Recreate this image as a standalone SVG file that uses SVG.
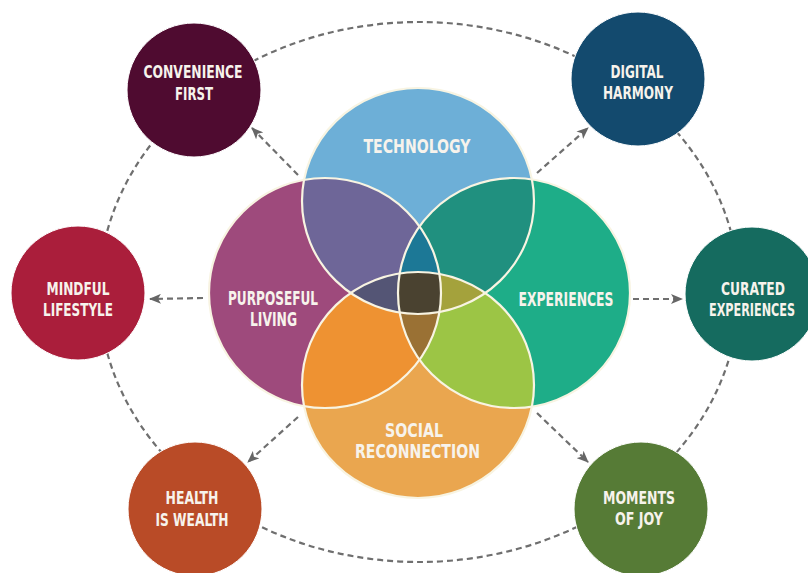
<svg xmlns="http://www.w3.org/2000/svg" width="808" height="573" viewBox="0 0 808 573">
<style>
.lbl{font-family:"Liberation Sans Narrow","DejaVu Sans Condensed","Liberation Sans",sans-serif;font-weight:bold;fill:#F7F3EC;text-anchor:middle}
.big{font-size:19.5px}
.sm{font-size:17px}
.dash{fill:none;stroke:#6F6F6F;stroke-width:2.2;stroke-dasharray:6 4}
.edge{fill:none;stroke:#F8F4E2;stroke-width:2.2}
.outer{stroke:#FFFFFF;stroke-width:1}
</style>
<defs>
<marker id="ah" viewBox="0 0 12 10" refX="11" refY="5" markerWidth="12" markerHeight="10" markerUnits="userSpaceOnUse" orient="auto">
<path d="M0,0 L12,5 L0,10 L3,5 Z" fill="#666666"/>
</marker>
<clipPath id="cT"><ellipse cx="418" cy="201" rx="116" ry="113"/></clipPath>
<clipPath id="cP"><ellipse cx="325" cy="293" rx="116" ry="115"/></clipPath>
<clipPath id="cE"><ellipse cx="514" cy="293" rx="116" ry="115"/></clipPath>
<clipPath id="cS"><ellipse cx="418" cy="385" rx="116" ry="113"/></clipPath>
</defs>
<rect width="808" height="573" fill="#FFFFFF"/>

<g id="connectors">
<ellipse class="dash" cx="419" cy="292" rx="320" ry="270"/>
<line class="dash" x1="298" y1="175" x2="252" y2="128" marker-end="url(#ah)"/>
<line class="dash" x1="537" y1="173" x2="588" y2="128" marker-end="url(#ah)"/>
<line class="dash" x1="203" y1="298" x2="150" y2="299" marker-end="url(#ah)"/>
<line class="dash" x1="633" y1="299" x2="682" y2="299" marker-end="url(#ah)"/>
<line class="dash" x1="298" y1="417" x2="248" y2="462" marker-end="url(#ah)"/>
<line class="dash" x1="537" y1="413" x2="588" y2="462" marker-end="url(#ah)"/>
</g>

<g id="venn">
<ellipse cx="418" cy="201" rx="116" ry="113" fill="#6DAFD7"/>
<ellipse cx="325" cy="293" rx="116" ry="115" fill="#9E4A7C"/>
<ellipse cx="514" cy="293" rx="116" ry="115" fill="#1EAD88"/>
<ellipse cx="418" cy="385" rx="116" ry="113" fill="#EAA64F"/>
<g clip-path="url(#cT)"><ellipse cx="325" cy="293" rx="116" ry="115" fill="#6E6698"/></g>
<g clip-path="url(#cT)"><ellipse cx="514" cy="293" rx="116" ry="115" fill="#20907F"/></g>
<g clip-path="url(#cS)"><ellipse cx="325" cy="293" rx="116" ry="115" fill="#EE9232"/></g>
<g clip-path="url(#cS)"><ellipse cx="514" cy="293" rx="116" ry="115" fill="#9CC545"/></g>
<g clip-path="url(#cT)"><g clip-path="url(#cP)"><ellipse cx="514" cy="293" rx="116" ry="115" fill="#1C7896"/></g></g>
<g clip-path="url(#cT)"><g clip-path="url(#cP)"><ellipse cx="418" cy="385" rx="116" ry="113" fill="#545575"/></g></g>
<g clip-path="url(#cT)"><g clip-path="url(#cE)"><ellipse cx="418" cy="385" rx="116" ry="113" fill="#A4A23C"/></g></g>
<g clip-path="url(#cS)"><g clip-path="url(#cP)"><ellipse cx="514" cy="293" rx="116" ry="115" fill="#9A7134"/></g></g>
<g clip-path="url(#cT)"><g clip-path="url(#cS)"><g clip-path="url(#cP)"><ellipse cx="514" cy="293" rx="116" ry="115" fill="#4A4230"/></g></g></g>
<ellipse class="edge" cx="418" cy="201" rx="116" ry="113"/>
<ellipse class="edge" cx="325" cy="293" rx="116" ry="115"/>
<ellipse class="edge" cx="514" cy="293" rx="116" ry="115"/>
<ellipse class="edge" cx="418" cy="385" rx="116" ry="113"/>
</g>

<g id="technology"><text class="lbl big" x="417" y="153" textLength="107" lengthAdjust="spacingAndGlyphs">TECHNOLOGY</text></g>
<g id="purposeful-living">
<text class="lbl big" x="273" y="305" textLength="90" lengthAdjust="spacingAndGlyphs">PURPOSEFUL</text>
<text class="lbl big" x="273.5" y="326" textLength="47" lengthAdjust="spacingAndGlyphs">LIVING</text>
</g>
<g id="experiences"><text class="lbl big" x="566" y="306" textLength="95" lengthAdjust="spacingAndGlyphs">EXPERIENCES</text></g>
<g id="social-reconnection">
<text class="lbl big" x="414" y="437" textLength="58" lengthAdjust="spacingAndGlyphs">SOCIAL</text>
<text class="lbl big" x="417.5" y="458" textLength="125" lengthAdjust="spacingAndGlyphs">RECONNECTION</text>
</g>

<g id="convenience-first">
<circle class="outer" cx="194" cy="90" r="67" fill="#4F0B30"/>
<text class="lbl sm" x="193" y="78" textLength="99" lengthAdjust="spacingAndGlyphs">CONVENIENCE</text>
<text class="lbl sm" x="194" y="100" textLength="38" lengthAdjust="spacingAndGlyphs">FIRST</text>
</g>
<g id="digital-harmony">
<circle class="outer" cx="638" cy="79" r="67" fill="#134A6E"/>
<text class="lbl sm" x="637" y="78" textLength="53" lengthAdjust="spacingAndGlyphs">DIGITAL</text>
<text class="lbl sm" x="638" y="99" textLength="70" lengthAdjust="spacingAndGlyphs">HARMONY</text>
</g>
<g id="mindful-lifestyle">
<circle class="outer" cx="78" cy="293" r="67" fill="#AA1E3B"/>
<text class="lbl sm" x="78" y="295" textLength="63" lengthAdjust="spacingAndGlyphs">MINDFUL</text>
<text class="lbl sm" x="78" y="316" textLength="70" lengthAdjust="spacingAndGlyphs">LIFESTYLE</text>
</g>
<g id="curated-experiences">
<circle class="outer" cx="752" cy="294" r="67" fill="#156B5F"/>
<text class="lbl sm" x="753" y="295" textLength="64" lengthAdjust="spacingAndGlyphs">CURATED</text>
<text class="lbl sm" x="752" y="316" textLength="86" lengthAdjust="spacingAndGlyphs">EXPERIENCES</text>
</g>
<g id="health-is-wealth">
<circle class="outer" cx="195" cy="509" r="67" fill="#B94B27"/>
<text class="lbl sm" x="192" y="504" textLength="53" lengthAdjust="spacingAndGlyphs">HEALTH</text>
<text class="lbl sm" x="192" y="526" textLength="73" lengthAdjust="spacingAndGlyphs">IS WEALTH</text>
</g>
<g id="moments-of-joy">
<circle class="outer" cx="641" cy="509" r="67" fill="#567B36"/>
<text class="lbl sm" x="639" y="504" textLength="72" lengthAdjust="spacingAndGlyphs">MOMENTS</text>
<text class="lbl sm" x="639" y="525" textLength="48" lengthAdjust="spacingAndGlyphs">OF JOY</text>
</g>
</svg>
